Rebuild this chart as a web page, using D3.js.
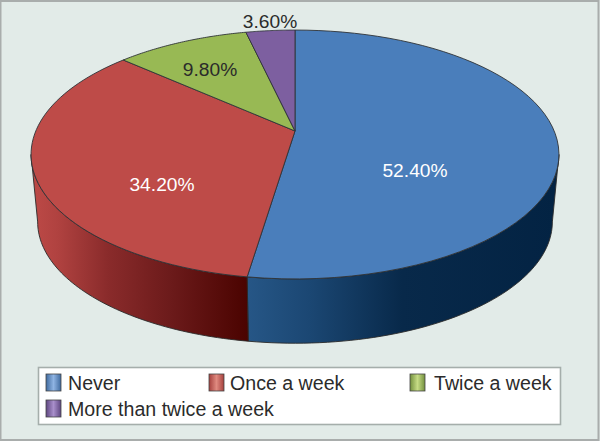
<!DOCTYPE html>
<html>
<head>
<meta charset="utf-8">
<script src="https://cdn.jsdelivr.net/npm/d3@7"></script>
<style>
html, body { margin: 0; padding: 0; background: #e2ebe8; }
svg { display: block; }
text { font-family: "Liberation Sans", Arial, sans-serif; }
</style>
</head>
<body>
<svg></svg>
<script>
var categories = ["Never", "Once a week", "Twice a week", "More than twice a week"];
var values = [52.4, 34.2, 9.8, 3.6];
var valueLabels = ["52.40%", "34.20%", "9.80%", "3.60%"];

var colors = ["#4a7ebb", "#be4b48", "#98b954", "#7d5fa0"];
var swatchEdge = ["#3f6a9e", "#a5403d", "#73903e", "#5e4680"];
var swatchMid = ["#8fb4e3", "#e08a80", "#c6dc85", "#a98fcb"];
var labelColors = ["#fff", "#fff", "#2b2b2b", "#2b2b2b"];
var labelPos = [[415, 177], [162, 191], [210, 76], [270, 28]];
var legendPos = [[46, 68, 374], [209, 230, 374], [410, 434, 374], [46, 68, 400]];

var width = 600;
var height = 441;

var svg = d3.select("svg")
    .attr("width", width)
    .attr("height", height);

// background and frame
svg.append("rect")
    .attr("x", 0.5).attr("y", 1)
    .attr("width", width - 2).attr("height", height - 2)
    .attr("fill", "#e2ebe8")
    .attr("stroke", "#a9adac")
    .attr("stroke-width", 2);

// pie is tilted in perspective, so circle points go through a projective map
var persp = 0.1888;
function project(angle, top) {
    var u = Math.sin(angle), v = Math.cos(angle);
    var w = 1 + persp * v;
    var s = top ? 1 : 0.975;
    var yc = top ? 131 : 199;
    return [295 + 259.2 * s * u / w, yc - 120 * s * v / w];
}

var pie = d3.pie().sort(null);
var slices = pie(values);
var line = d3.line();

function rim(a0, a1, top) {
    return d3.range(0, 61).map(function(i) {
        return project(a0 + (a1 - a0) * i / 60, top);
    });
}

var defs = svg.append("defs");

function sideGradient(id, x1, x2, stops) {
    var g = defs.append("linearGradient")
        .attr("id", id)
        .attr("gradientUnits", "userSpaceOnUse")
        .attr("x1", x1).attr("x2", x2)
        .attr("y1", 0).attr("y2", 0);
    stops.forEach(function(s) {
        g.append("stop").attr("offset", s[0]).attr("stop-color", s[1]);
    });
}

sideGradient("side0", 248, 556, [[0, "#265686"], [0.2, "#1b4773"], [0.5, "#08294a"], [1, "#032343"]]);
sideGradient("side1", 32, 248, [[0, "#bd4a47"], [0.12, "#b04240"], [0.35, "#8a2b2b"], [0.65, "#6b1a1a"], [1, "#4a0300"]]);

// only the front of the wall is visible, between the two silhouette angles
var frontStart = Math.PI / 2 + Math.asin(persp);
var frontEnd = 3 * Math.PI / 2 - Math.asin(persp);

slices.forEach(function(d, i) {
    var a0 = Math.max(d.startAngle, frontStart);
    var a1 = Math.min(d.endAngle, frontEnd);
    if (a1 <= a0) return;
    var pts = rim(a0, a1, true).concat(rim(a0, a1, false).reverse());
    svg.append("path")
        .attr("d", line(pts) + "Z")
        .attr("fill", "url(#side" + i + ")")
        .attr("stroke", "#2a2a2a")
        .attr("stroke-width", 0.9)
        .attr("stroke-linejoin", "round");
});

// top face
svg.selectAll("path.top")
    .data(slices)
    .enter().append("path")
    .attr("class", "top")
    .attr("d", function(d) {
        return line([[295, 131]].concat(rim(d.startAngle, d.endAngle, true))) + "Z";
    })
    .attr("fill", function(d, i) { return colors[i]; })
    .attr("stroke", "#2f3338")
    .attr("stroke-width", 0.9)
    .attr("stroke-linejoin", "round");

// value labels
svg.selectAll("text.value")
    .data(valueLabels)
    .enter().append("text")
    .attr("class", "value")
    .attr("x", function(d, i) { return labelPos[i][0]; })
    .attr("y", function(d, i) { return labelPos[i][1]; })
    .attr("text-anchor", "middle")
    .attr("font-size", 19.2)
    .attr("fill", function(d, i) { return labelColors[i]; })
    .text(function(d) { return d; });

// legend
svg.append("rect")
    .attr("x", 38.5).attr("y", 367.5)
    .attr("width", 522).attr("height", 57)
    .attr("fill", "#fff")
    .attr("stroke", "#a5aeab")
    .attr("stroke-width", 1.6);

categories.forEach(function(c, i) {
    var g = defs.append("linearGradient").attr("id", "swatch" + i);
    g.append("stop").attr("offset", 0).attr("stop-color", swatchEdge[i]);
    g.append("stop").attr("offset", 0.5).attr("stop-color", swatchMid[i]);
    g.append("stop").attr("offset", 1).attr("stop-color", swatchEdge[i]);

    svg.append("rect")
        .attr("x", legendPos[i][0]).attr("y", legendPos[i][2])
        .attr("width", 15).attr("height", 17)
        .attr("fill", "url(#swatch" + i + ")")
        .attr("stroke", "#444")
        .attr("stroke-width", 0.8);

    svg.append("text")
        .attr("x", legendPos[i][1]).attr("y", legendPos[i][2] + 16)
        .attr("font-size", 19.6)
        .attr("fill", "#2b2b2b")
        .text(c);
});
</script>
</body>
</html>
